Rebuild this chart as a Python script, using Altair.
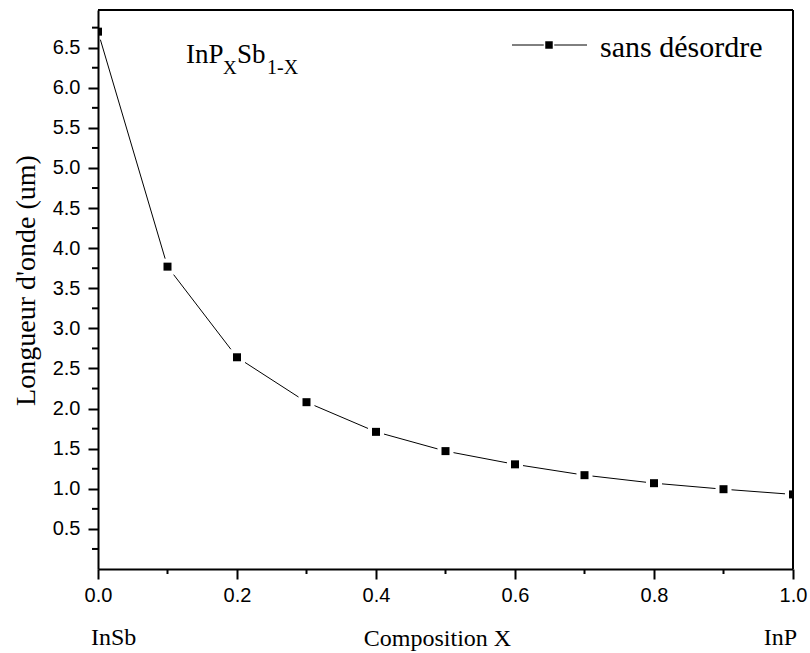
import altair as alt
import pandas as pd

composition = [0.0, 0.1, 0.2, 0.3, 0.4, 0.5, 0.6, 0.7, 0.8, 0.9, 1.0]
wavelength = [6.70, 3.77, 2.64, 2.08, 1.71, 1.47, 1.305, 1.17, 1.07, 0.995, 0.93]
series_name = "sans désordre"
y_major = [0.5, 1.0, 1.5, 2.0, 2.5, 3.0, 3.5, 4.0, 4.5, 5.0, 5.5, 6.0, 6.5]
y_minor = [0.25, 0.75, 1.25, 1.75, 2.25, 2.75, 3.25, 3.75, 4.25, 4.75, 5.25, 5.75, 6.25, 6.75]
x_major = [0.0, 0.2, 0.4, 0.6, 0.8, 1.0]
x_minor = [0.1, 0.3, 0.5, 0.7, 0.9]

W, H = 695, 559
df = pd.DataFrame({"x": composition, "y": wavelength})

serif = "Liberation Serif"
sans = "Liberation Sans"

xscale = alt.Scale(domain=[0, 1], nice=False, zero=False)
yscale = alt.Scale(domain=[0, 6.97], nice=False, zero=False)

xaxis = alt.Axis(
    values=x_major, format=".1f", tickSize=10,
    grid=False, domainColor="black", domainWidth=2, tickColor="black", tickWidth=2,
    labelFont=sans, labelFontSize=20, labelColor="black", labelPadding=6,
    labelOverlap=False, labelBound=False, labelFlush=False,
    title="Composition X", titleFont=serif, titleFontSize=24, titleFontWeight="normal",
    titleColor="black", titleX=339, titleY=76, titleBaseline="alphabetic", titleAlign="center",
    zindex=1,
)
yaxis = alt.Axis(
    values=y_major, format=".1f", tickSize=10,
    grid=False, domainColor="black", domainWidth=2, tickColor="black", tickWidth=2,
    labelFont=sans, labelFontSize=20, labelColor="black", labelPadding=8,
    labelOverlap=False, labelBound=False, labelFlush=False,
    title="Longueur d'onde (um)", titleFont=serif, titleFontSize=28, titleFontWeight="normal",
    titleColor="black", titleX=-72, titleY=270, titleAngle=270, titleBaseline="middle",
    titleAlign="center", zindex=1,
)

X = alt.X("x:Q", scale=xscale, axis=xaxis)
Y = alt.Y("y:Q", scale=yscale, axis=yaxis)

base = alt.Chart(df)
line = base.mark_line(color="black", strokeWidth=1, clip=True).encode(x=X, y=Y)
halo = base.mark_point(shape="square", filled=True, color="white", size=256, opacity=1,
                       clip=True).encode(x=X, y=Y)
pts = base.mark_point(shape="square", filled=True, color="black", size=64, opacity=1,
                      clip=True).encode(x=X, y=Y)

# minor ticks
y_minor_ticks = alt.Chart(pd.DataFrame({"y": y_minor})).mark_rule(color="black", strokeWidth=2).encode(
    y=Y, x=alt.value(-6), x2=alt.value(0))
x_minor_ticks = alt.Chart(pd.DataFrame({"x": x_minor})).mark_rule(color="black", strokeWidth=2).encode(
    x=X, y=alt.value(H), y2=alt.value(H + 5))

one = alt.Chart(pd.DataFrame({"a": [0]}))
right_border = one.mark_rule(color="black", strokeWidth=2).encode(
    x=alt.value(W), y=alt.value(0), y2=alt.value(H))
top_border = one.mark_rule(color="black", strokeWidth=2).encode(
    x=alt.value(0), x2=alt.value(W), y=alt.value(0))

# legend
leg_line = one.mark_rule(color="black", strokeWidth=1).encode(
    x=alt.value(414), x2=alt.value(489), y=alt.value(35))
leg_halo = one.mark_point(shape="square", filled=True, color="white", size=110, opacity=1).encode(
    x=alt.value(451), y=alt.value(35))
leg_pt = one.mark_point(shape="square", filled=True, color="black", size=56, opacity=1).encode(
    x=alt.value(451), y=alt.value(35))
leg_txt = one.mark_text(text=series_name, font=serif, fontSize=30, align="left",
                        baseline="alphabetic", color="black").encode(
    x=alt.value(502), y=alt.value(47))

# formula label
def txt(s, x, y, size):
    return one.mark_text(text=s, font=serif, fontSize=size, align="left",
                         baseline="alphabetic", color="black").encode(
        x=alt.value(x), y=alt.value(y))

f1 = txt("InP", 88, 53, 27)
f2 = txt("X", 125, 64, 19)
f3 = txt("Sb", 139, 53, 27)
f4 = txt("1-X", 169, 64, 20)

# end labels below axis
insb = one.mark_text(text="InSb", font=serif, fontSize=24, align="left",
                     baseline="alphabetic", color="black").encode(
    x=alt.value(-7), y=alt.value(635))
inp = one.mark_text(text="InP", font=serif, fontSize=24, align="right",
                    baseline="alphabetic", color="black").encode(
    x=alt.value(699), y=alt.value(635))

chart = alt.layer(
    line, halo, pts, y_minor_ticks, x_minor_ticks, right_border, top_border,
    leg_line, leg_halo, leg_pt, leg_txt, f1, f2, f3, f4, insb, inp
).properties(
    width=W, height=H,
    autosize=alt.AutoSizeParams(type="none"),
    padding={"left": 98, "top": 10, "right": 17, "bottom": 84},
    background="white",
).configure_view(stroke=None)

chart.save("out.html", embed_options={"renderer": "svg", "actions": False})
